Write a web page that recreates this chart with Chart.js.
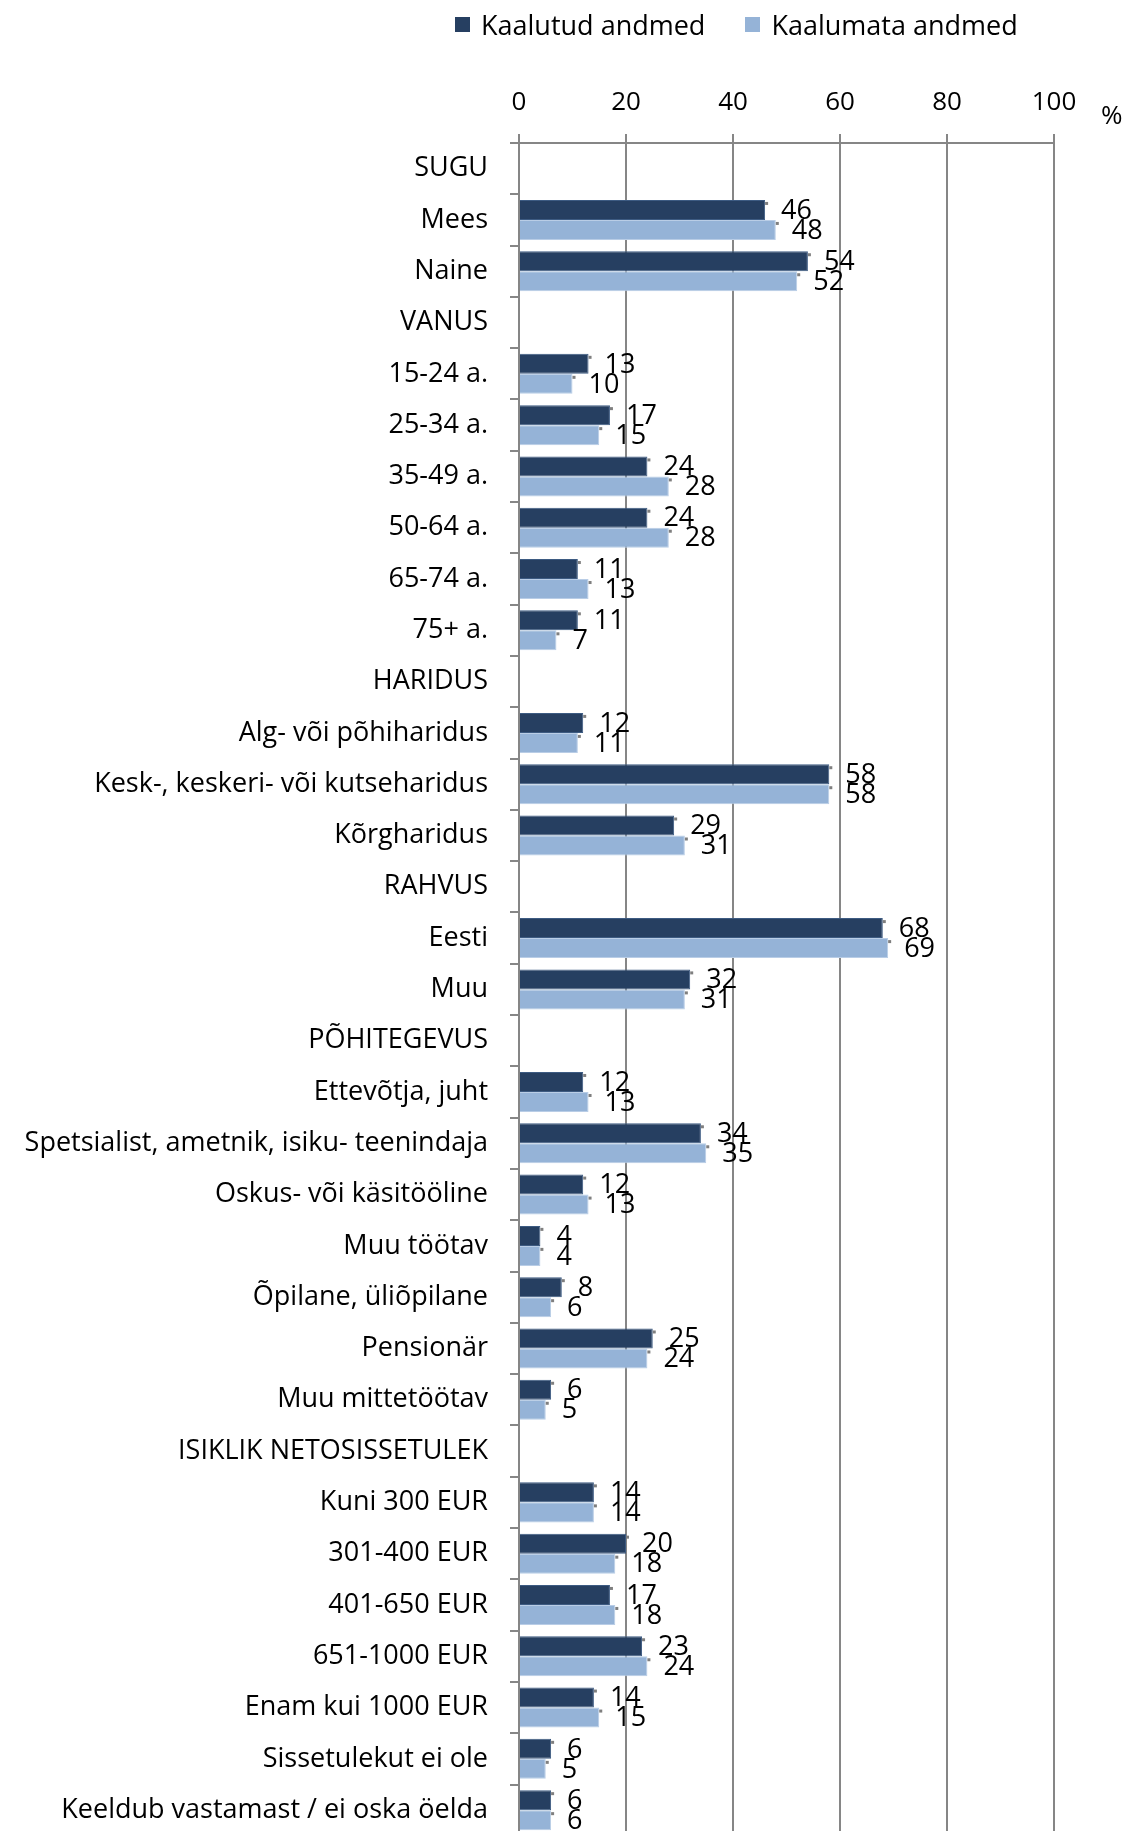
<!DOCTYPE html>
<html>
<head>
<meta charset="utf-8">
<script src="https://cdn.jsdelivr.net/npm/chart.js@4"></script>
<style>
  html, body { margin: 0; padding: 0; background: #fff; overflow: hidden; }
  #wrap { position: relative; width: 1124px; height: 1874px; }
  .legend { position: absolute; top: 6px; left: 455px; display: flex; align-items: center;
            font-family: "Open Sans", sans-serif; font-size: 27px; color: #000; }
  .legend span.box { display: inline-block; width: 15px; height: 15px; margin-right: 11px; }
  .legend span.item { display: flex; align-items: center; margin-right: 40px; }
</style>
</head>
<body>
<div id="wrap">
  <canvas id="chart" width="1124" height="1874"></canvas>
  <div class="legend">
    <span class="item"><span class="box" style="background:#263f61"></span>Kaalutud andmed</span>
    <span class="item"><span class="box" style="background:#95b3d7"></span>Kaalumata andmed</span>
  </div>
</div>
<script>
var categories = [
  'SUGU', 'Mees', 'Naine',
  'VANUS', '15-24 a.', '25-34 a.', '35-49 a.', '50-64 a.', '65-74 a.', '75+ a.',
  'HARIDUS', 'Alg- või põhiharidus', 'Kesk-, keskeri- või kutseharidus', 'Kõrgharidus',
  'RAHVUS', 'Eesti', 'Muu',
  'PÕHITEGEVUS', 'Ettevõtja, juht', 'Spetsialist, ametnik, isiku- teenindaja', 'Oskus- või käsitööline',
  'Muu töötav', 'Õpilane, üliõpilane', 'Pensionär', 'Muu mittetöötav',
  'ISIKLIK NETOSISSETULEK', 'Kuni 300 EUR', '301-400 EUR', '401-650 EUR', '651-1000 EUR',
  'Enam kui 1000 EUR', 'Sissetulekut ei ole', 'Keeldub vastamast / ei oska öelda'
];
var weighted = [
  null, 46, 54,
  null, 13, 17, 24, 24, 11, 11,
  null, 12, 58, 29,
  null, 68, 32,
  null, 12, 34, 12, 4, 8, 25, 6,
  null, 14, 20, 17, 23, 14, 6, 6
];
var unweighted = [
  null, 48, 52,
  null, 10, 15, 28, 28, 13, 7,
  null, 11, 58, 31,
  null, 69, 31,
  null, 13, 35, 13, 4, 6, 24, 5,
  null, 14, 18, 18, 24, 15, 5, 6
];
var xTicks = [0, 20, 40, 60, 80, 100];

var FONT = '"Open Sans", sans-serif';
var GRID = '#868686';

// value labels next to bar ends, with the small grey marker
var valueLabels = {
  id: 'valueLabels',
  afterDatasetsDraw: function (chart) {
    var ctx = chart.ctx;
    ctx.save();
    ctx.textBaseline = 'middle';
    ctx.textAlign = 'left';
    ctx.font = '27px ' + FONT;
    chart.data.datasets.forEach(function (ds, i) {
      chart.getDatasetMeta(i).data.forEach(function (bar, j) {
        var v = ds.data[j];
        if (v == null) return;
        var top = bar.y - bar.height / 2;
        ctx.fillStyle = '#7f7f7f';
        ctx.fillRect(bar.x, top + 2, 3, 3);
        ctx.fillStyle = '#000';
        ctx.fillText(String(v), bar.x + 16, bar.y + 1);
      });
    });
    // unit sign
    ctx.font = '26px ' + FONT;
    ctx.fillText('%', 1101, 117);
    ctx.restore();
  }
};

new Chart(document.getElementById('chart'), {
  type: 'bar',
  data: {
    labels: categories,
    datasets: [
      {
        label: 'Kaalutud andmed',
        data: weighted,
        backgroundColor: '#263f61',
        borderColor: '#3d5b82',
        borderWidth: 1,
        barPercentage: 1,
        categoryPercentage: 0.78
      },
      {
        label: 'Kaalumata andmed',
        data: unweighted,
        backgroundColor: '#95b3d7',
        borderColor: '#b9cde6',
        borderWidth: 1,
        barPercentage: 1,
        categoryPercentage: 0.78
      }
    ]
  },
  options: {
    indexAxis: 'y',
    responsive: false,
    animation: false,
    layout: { padding: { left: 0, right: 70, top: 0, bottom: 0 } },
    plugins: {
      legend: { display: false },
      tooltip: { enabled: false }
    },
    scales: {
      x: {
        position: 'top',
        min: 0,
        max: 100,
        afterBuildTicks: function (s) {
          s.ticks = xTicks.map(function (v) { return { value: v }; });
        },
        afterFit: function (s) { s.height = 143; },
        grid: { color: GRID, lineWidth: 2, tickLength: 9 },
        border: { color: GRID, width: 2 },
        ticks: { font: { family: FONT, size: 26 }, color: '#000', padding: 16 }
      },
      y: {
        afterFit: function (s) { s.width = 519; },
        grid: { offset: true, drawOnChartArea: false, color: GRID, lineWidth: 2, tickLength: 9 },
        border: { color: GRID, width: 2 },
        ticks: { font: { family: FONT, size: 27 }, color: '#000', padding: 22, autoSkip: false }
      }
    }
  },
  plugins: [valueLabels]
});
</script>
</body>
</html>
